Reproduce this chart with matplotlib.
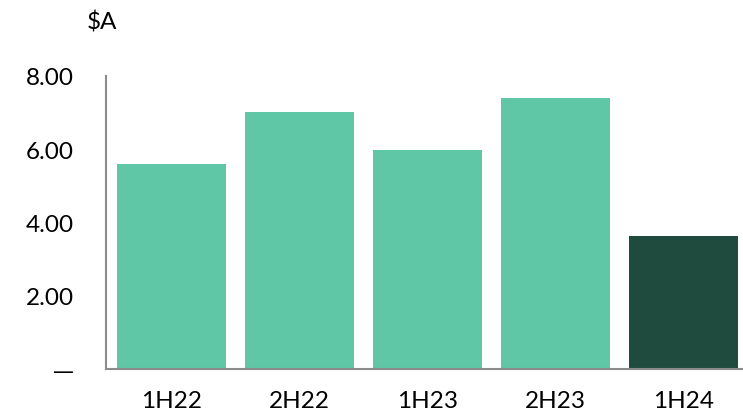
import matplotlib.pyplot as plt
from matplotlib.ticker import FuncFormatter

periods = ["1H22", "2H22", "1H23", "2H23", "1H24"]
values = [5.60, 7.02, 5.98, 7.40, 3.63]
bar_colors = ["#5FC7A5", "#5FC7A5", "#5FC7A5", "#5FC7A5", "#1E4B3E"]


def fmt_tick(v, pos):
    return "\u2014" if v == 0 else f"{v:.2f}"


def main():
    plt.rcParams["font.family"] = ["Lato", "DejaVu Sans"]
    fig = plt.figure(figsize=(7.43, 4.14), dpi=100)
    ax = fig.add_axes([106 / 743, 44 / 414, 637 / 743, 293 / 414])

    x = range(len(periods))
    ax.bar(x, values, width=0.85, color=bar_colors)

    ax.set_xlim(-0.512, 4.465)
    ax.set_ylim(0, 8)
    ax.set_yticks([0, 2, 4, 6, 8])
    ax.yaxis.set_major_formatter(FuncFormatter(fmt_tick))
    ax.set_xticks(list(x))
    ax.set_xticklabels(periods)

    ax.tick_params(axis="both", length=0, labelsize=17.5, colors="black")
    ax.tick_params(axis="y", pad=23)
    ax.tick_params(axis="x", pad=15)

    for side in ["top", "right"]:
        ax.spines[side].set_visible(False)
    for side in ["left", "bottom"]:
        ax.spines[side].set_color("#8c8c8c")
        ax.spines[side].set_linewidth(1.5)

    # wider dash for the zero label
    fig.canvas.draw()
    ax.get_yticklabels()[0].set_fontfamily("DejaVu Sans")
    ax.get_yticklabels()[0].set_fontsize(15)

    fig.text(102 / 743, 1 - 22 / 414, "$A", fontsize=17.5, ha="center", va="center")

    fig.savefig("out.png", dpi=100)


if __name__ == "__main__":
    main()
